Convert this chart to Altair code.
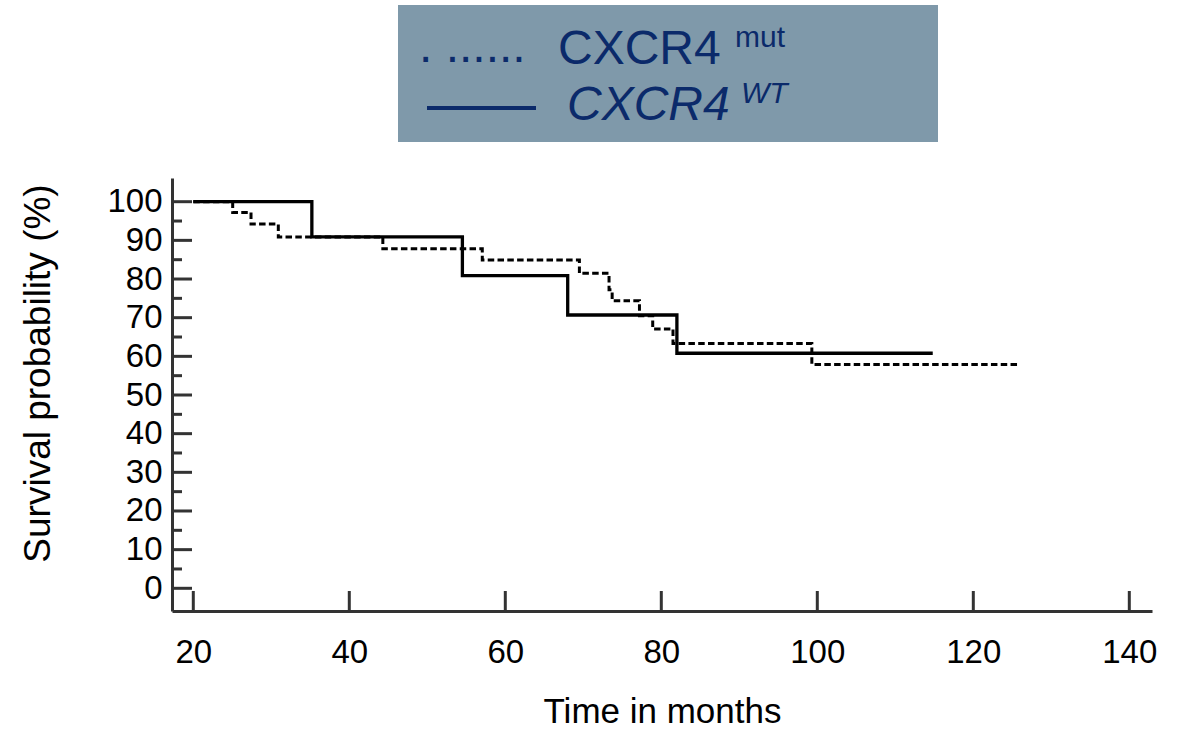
import altair as alt
import pandas as pd

# ---- data ----
wt_time = [20, 35.2, 54.5, 68.0, 82.0, 114.8]
wt_surv = [100, 90.9, 80.9, 70.7, 60.8, 60.8]

mut_time = [20, 25.05, 27.4, 30.9, 44.3, 57.05, 69.5, 73.3, 73.7, 77.2, 78.9, 81.5, 99.3, 126.0]
mut_surv = [100, 97.2, 94.2, 90.9, 87.8, 84.9, 81.5, 77.2, 74.4, 70.5, 67.1, 63.3, 57.9, 57.9]

x_ticks = [20, 40, 60, 80, 100, 120, 140]
y_ticks = [0, 10, 20, 30, 40, 50, 60, 70, 80, 90, 100]
y_minor = [5, 15, 25, 35, 45, 55, 65, 75, 85, 95]

legend_names = ["CXCR4", "CXCR4"]
legend_sups = ["mut", "WT"]
legend_dots = [". ......"]

FONT = "Liberation Sans"
AX = "#333333"
NAVY = "#0b2a6a"
BOX = "#7f99aa"

W, H = 980, 433
xscale = alt.Scale(domain=[17.27, 142.91], nice=False, zero=False)
yscale = alt.Scale(domain=[-5.87, 106.13], nice=False, zero=False)

wt = pd.DataFrame({"time": wt_time, "survival": wt_surv})
mut = pd.DataFrame({"time": mut_time, "survival": mut_surv})

x_axis = alt.Axis(values=x_ticks, ticks=False, tickSize=0, grid=False,
                  domainColor=AX, domainWidth=3,
                  labelFont=FONT, labelFontSize=33, labelColor="#000000",
                  labelPadding=51, labelBaseline="alphabetic", labelFlush=False,
                  labelOverlap=False,
                  title="Time in months", titleFont=FONT, titleFontSize=35,
                  titleFontWeight="normal", titleColor="#000000",
                  titleX=490, titleY=111, titleBaseline="alphabetic", titleAlign="center")
y_axis = alt.Axis(values=y_ticks, ticks=False, tickSize=0, grid=False,
                  domainColor=AX, domainWidth=3,
                  labelFont=FONT, labelFontSize=33, labelColor="#000000",
                  labelPadding=10, labelBaseline="middle", labelFlush=False,
                  labelOverlap=False,
                  title="Survival probability (%)", titleFont=FONT, titleFontSize=37,
                  titleFontWeight="normal", titleColor="#000000",
                  titleX=-123, titleY=195, titleAngle=270,
                  titleBaseline="alphabetic", titleAlign="center")

X = alt.X("time:Q", scale=xscale, axis=x_axis)
Y = alt.Y("survival:Q", scale=yscale, axis=y_axis)

mut_line = alt.Chart(mut).mark_line(interpolate="step-after", color="#000000",
                                     strokeWidth=3, strokeDash=[6.5, 3.3]).encode(x=X, y=Y)
wt_line = alt.Chart(wt).mark_line(interpolate="step-after", color="#000000",
                                   strokeWidth=3.3).encode(x=X, y=Y)

# inward ticks
xt = alt.Chart(pd.DataFrame({"time": x_ticks})).mark_rule(color=AX, strokeWidth=3).encode(
    x=X, y=alt.value(H - 20), y2=alt.value(H))
yt = alt.Chart(pd.DataFrame({"survival": y_ticks})).mark_rule(color=AX, strokeWidth=3).encode(
    y=Y, x=alt.value(0), x2=alt.value(20))
ym = alt.Chart(pd.DataFrame({"survival": y_minor})).mark_rule(color=AX, strokeWidth=3).encode(
    y=Y, x=alt.value(0), x2=alt.value(10))

# legend box
box = alt.Chart(pd.DataFrame({"k": [0]})).mark_rect(color=BOX).encode(
    x=alt.value(226), x2=alt.value(766), y=alt.value(-173), y2=alt.value(-36))
dots = alt.Chart(pd.DataFrame({"t": legend_dots})).mark_text(
    align="left", baseline="alphabetic", font=FONT, fontSize=48, color=NAVY).encode(
    text="t:N", x=alt.value(247), y=alt.value(-116))
name1 = alt.Chart(pd.DataFrame({"t": [legend_names[0]]})).mark_text(
    align="left", baseline="alphabetic", font=FONT, fontSize=48, color=NAVY).encode(
    text="t:N", x=alt.value(386), y=alt.value(-114))
sup1 = alt.Chart(pd.DataFrame({"t": [legend_sups[0]]})).mark_text(
    align="left", baseline="alphabetic", font=FONT, fontSize=30, color=NAVY).encode(
    text="t:N", x=alt.value(563), y=alt.value(-131))
leg_line = alt.Chart(pd.DataFrame({"k": [0]})).mark_rule(color=NAVY, strokeWidth=4).encode(
    x=alt.value(255), x2=alt.value(364), y=alt.value(-70))
name2 = alt.Chart(pd.DataFrame({"t": [legend_names[1]]})).mark_text(
    align="left", baseline="alphabetic", font=FONT, fontSize=48, fontStyle="italic",
    color=NAVY).encode(text="t:N", x=alt.value(395), y=alt.value(-58))
sup2 = alt.Chart(pd.DataFrame({"t": [legend_sups[1]]})).mark_text(
    align="left", baseline="alphabetic", font=FONT, fontSize=30, fontStyle="italic",
    color=NAVY).encode(text="t:N", x=alt.value(569), y=alt.value(-75))

chart = alt.layer(mut_line, wt_line, xt, yt, ym, box, dots, name1, sup1, leg_line, name2, sup2).properties(
    width=W, height=H,
    autosize=alt.AutoSizeParams(type="none"),
    padding={"left": 172, "top": 178, "right": 31, "bottom": 119},
).configure_view(stroke=None)

chart.save("out.html", embed_options={"renderer": "svg", "actions": False})
